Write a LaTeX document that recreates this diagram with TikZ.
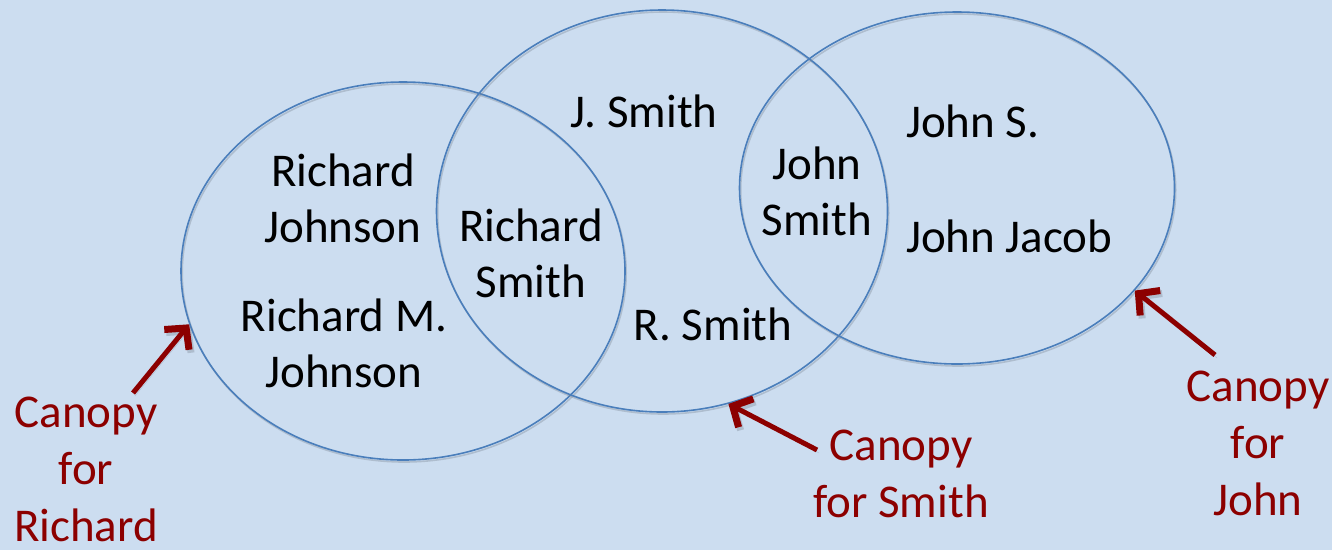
\documentclass[tikz,border=0pt]{standalone}
\usepackage{fontspec}
\setmainfont{Carlito}
\usetikzlibrary{shapes.geometric,arrows.meta}
\definecolor{bgblue}{RGB}{204,221,240}
\definecolor{ringblue}{RGB}{74,126,187}
\definecolor{canopyred}{RGB}{140,0,0}
\definecolor{shadowgray}{RGB}{120,130,145}
\tikzset{
  ring/.style={ellipse, draw=ringblue, line width=1.6pt, inner sep=0pt,
    preaction={draw=shadowgray, draw opacity=0.35, line width=1.6pt,
      transform canvas={shift={(1.2pt,-2pt)}}}},
  % multi-line nodes sit on the baseline of their last line
  person/.style={font=\fontsize{47}{56}\selectfont, text=black, align=center,
    inner sep=0pt, anchor=base},
  canopy/.style={font=\fontsize{47}{57}\selectfont, text=canopyred, align=center,
    inner sep=0pt, anchor=base},
  pointer/.style={draw=canopyred, line width=5pt,
    -{Straight Barb[length=15pt,width=32pt,line width=7pt]},
    preaction={draw=shadowgray, draw opacity=0.35,
      transform canvas={shift={(2pt,-3pt)}}}}
}
\begin{document}
\begin{tikzpicture}[x=1pt,y=-1pt]
  % page and background
  \fill[bgblue] (0,0) rectangle (1332,550);
  \useasboundingbox (0,0) rectangle (1332,550);

  % the three canopies
  \node[ring, minimum width=444pt, minimum height=378pt] (rich) at (403,271) {};
  \node[ring, minimum width=451pt, minimum height=402pt] (smith) at (662,211) {};
  \node[ring, minimum width=435pt, minimum height=352pt] (john) at (957,188) {};

  % names inside the canopies
  \node[person] (rj)  at (343,242) {Richard\\Johnson};
  \node[person] (rmj) at (344,387) {Richard M.\\Johnson};
  \node[person] (rs)  at (531,297) {Richard\\Smith};
  \node[person] (js)  at (644,127) {J. Smith};
  \node[person] (rsm) at (713,340) {R. Smith};
  \node[person] (jsm) at (817,235) {John\\Smith};
  \node[person, anchor=base west] (jss) at (906,137) {John S.};
  \node[person, anchor=base west] (jj)  at (906,252) {John Jacob};

  % canopy labels
  \node[canopy] (lr) at (86,541) {Canopy\\for\\Richard};
  \node[canopy] (ls) at (901,517) {Canopy\\for Smith};
  \node[canopy] (lj) at (1258,515) {Canopy\\for\\John};

  % pointers from the labels to the canopies
  \coordinate (tr) at (133,393);
  \coordinate (ts) at (817,450);
  \coordinate (tj) at (1215,355);
  \draw[pointer] (tr) -- (rich.194.5);
  \draw[pointer] (ts) -- (smith.289);
  \draw[pointer] (tj) -- (john.330);
\end{tikzpicture}
\end{document}
